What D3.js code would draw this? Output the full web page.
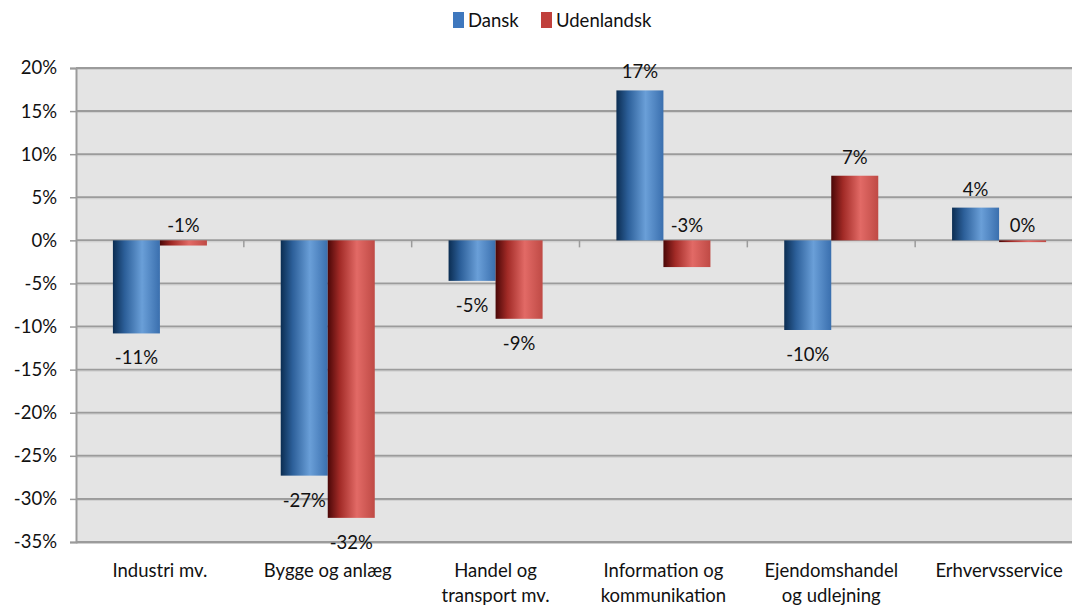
<!DOCTYPE html>
<html><head><meta charset="utf-8">
<script src="https://cdn.jsdelivr.net/npm/d3@7"></script>
<style>
body{margin:0;background:#fff;}
svg{display:block;font-family:Lato,"Open Sans",sans-serif;}
</style></head>
<body>
<svg id="c" width="1072" height="606"></svg>
<script>
const categories = [["Industri mv."],["Bygge og anlæg"],["Handel og","transport mv."],["Information og","kommunikation"],["Ejendomshandel","og udlejning"],["Erhvervsservice"]];
const seriesNames = ["Dansk","Udenlandsk"];
const dansk = [-10.8,-27.3,-4.7,17.4,-10.4,3.8];
const udenlandsk = [-0.6,-32.2,-9.1,-3.1,7.5,-0.2];
const labelsDansk = ["-11%","-27%","-5%","17%","-10%","4%"];
const labelsUdenlandsk = ["-1%","-32%","-9%","-3%","7%","0%"];
const yTicks = [-35,-30,-25,-20,-15,-10,-5,0,5,10,15,20];

const svg = d3.select("#c");
const L = 76, R = 1083, T = 68, B = 542;
const x0 = d3.scaleBand().domain(d3.range(categories.length)).range([L,R]).paddingInner(0).paddingOuter(0);
const x1 = d3.scaleBand().domain(seriesNames).range([0,x0.bandwidth()]).paddingInner(0).paddingOuter(0.785);
const y = d3.scaleLinear().domain([-35,20]).range([B,T]);

const defs = svg.append("defs");
function grad(id, stops){
  const g = defs.append("linearGradient").attr("id",id).attr("x1","0").attr("x2","1").attr("y1","0").attr("y2","0");
  stops.forEach(s=>g.append("stop").attr("offset",s[0]).attr("stop-color",s[1]));
}
grad("gBlue",[[0,"#0b2d52"],[0.25,"#2c5f99"],[0.62,"#6a9fd8"],[1,"#3a6fae"]]);
grad("gRed",[[0,"#4a0707"],[0.25,"#a12a26"],[0.62,"#e26a66"],[1,"#bf4a45"]]);
const fills = {"Dansk":"url(#gBlue)","Udenlandsk":"url(#gRed)"};
const legendColors = {"Dansk":"#3f78be","Udenlandsk":"#c0403c"};

// plot background
svg.append("rect").attr("x",L).attr("y",T).attr("width",R-L).attr("height",B-T).attr("fill","#e4e4e4");

// gridlines
svg.append("g").selectAll("line").data(yTicks).join("line")
  .attr("x1",L).attr("x2",R).attr("y1",d=>y(d)).attr("y2",d=>y(d))
  .attr("stroke","#9b9b9b").attr("stroke-width",2);
svg.append("g").selectAll("line").data(yTicks).join("line")
  .attr("x1",L).attr("x2",R).attr("y1",d=>y(d)+1.5).attr("y2",d=>y(d)+1.5)
  .attr("stroke","#d0d0d0").attr("stroke-width",1);

// y axis
const yAxis = d3.axisLeft(y).tickValues(yTicks).tickFormat(d=>d+"%").tickSize(6).tickPadding(13);
const ga = svg.append("g").attr("transform",`translate(${L},0)`).call(yAxis);
ga.select(".domain").attr("stroke","#9b9b9b").attr("stroke-width",2);
ga.selectAll(".tick line").attr("stroke","#9b9b9b").attr("stroke-width",1.5);
ga.selectAll(".tick text").attr("font-size",18.5).attr("fill","#111").attr("font-family","Lato");

// x ticks at zero line
svg.append("g").selectAll("line").data(d3.range(1,categories.length)).join("line")
  .attr("x1",d=>x0(d)).attr("x2",d=>x0(d)).attr("y1",y(0)).attr("y2",y(0)+7)
  .attr("stroke","#9b9b9b").attr("stroke-width",1.5);

// bars
const data = categories.map((c,i)=>({i, vals:[{s:"Dansk",v:dansk[i],l:labelsDansk[i]},{s:"Udenlandsk",v:udenlandsk[i],l:labelsUdenlandsk[i]}]}));
const groups = svg.append("g").selectAll("g").data(data).join("g").attr("transform",d=>`translate(${x0(d.i)},0)`);
groups.selectAll("rect").data(d=>d.vals).join("rect")
  .attr("x",d=>x1(d.s)).attr("width",x1.bandwidth())
  .attr("y",d=>y(Math.max(0,d.v))).attr("height",d=>Math.max(1.5,Math.abs(y(d.v)-y(0))))
  .attr("fill",d=>fills[d.s]);

// data labels
groups.selectAll("text").data(d=>d.vals).join("text")
  .attr("x",d=>x1(d.s)+x1.bandwidth()/2)
  .attr("y",d=> d.v>=0 ? y(d.v)-19 : (d.v>-4 ? y(0)-15 : y(d.v)+24))
  .attr("text-anchor","middle").attr("dominant-baseline","central")
  .attr("font-size",18.5).attr("fill","#111").text(d=>d.l);

// category labels
const cl = svg.append("g").selectAll("text").data(categories).join("text")
  .attr("x",(d,i)=>x0(i)+x0.bandwidth()/2).attr("y",571)
  .attr("text-anchor","middle").attr("font-size",18.5).attr("fill","#111");
cl.selectAll("tspan").data(d=>d).join("tspan")
  .attr("x",function(){return d3.select(this.parentNode).attr("x");})
  .attr("dy",(d,j)=>j===0?"0.35em":"1.35em").text(d=>d);

// legend
const leg = svg.append("g");
const legX = {"Dansk":453,"Udenlandsk":541};
seriesNames.forEach(s=>{
  leg.append("rect").attr("x",legX[s]).attr("y",12).attr("width",11).attr("height",16).attr("fill",legendColors[s]);
  leg.append("text").attr("x",legX[s]+15).attr("y",20).attr("dominant-baseline","central")
    .attr("font-size",18.5).attr("fill","#111").text(s);
});
</script>
</body></html>
